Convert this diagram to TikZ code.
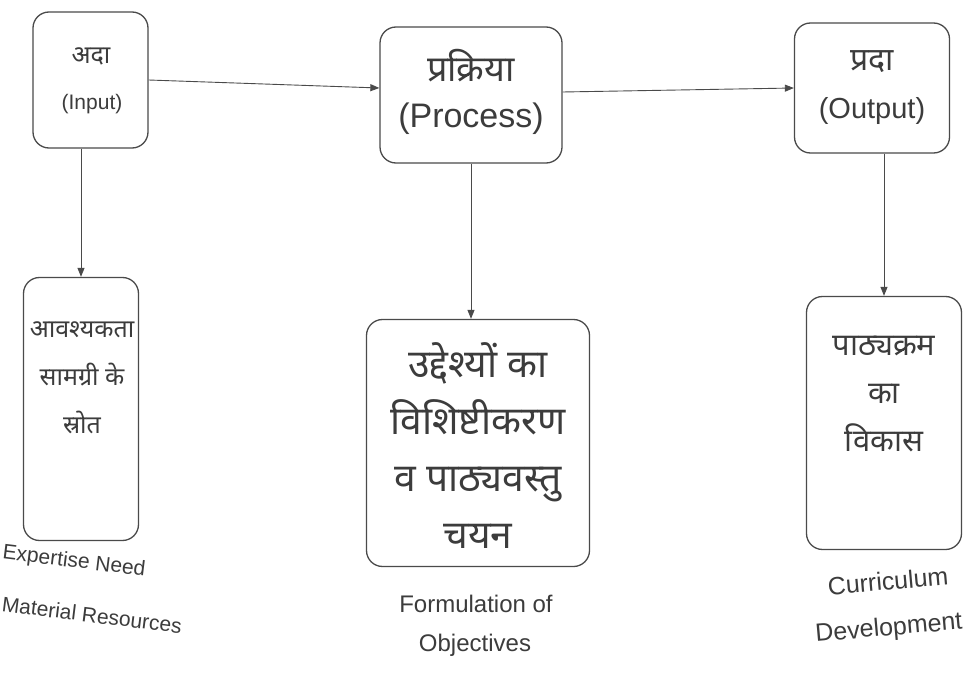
\documentclass[tikz,border=0pt]{standalone}
\usepackage{fontspec}
\setmainfont{Liberation Sans}
\newfontfamily\deva[Script=Devanagari]{Noto Sans}
\usetikzlibrary{arrows.meta}
\definecolor{ink}{HTML}{4A4A4A}
\definecolor{txt}{HTML}{3C3C3C}
\begin{document}
\begin{tikzpicture}[x=1pt,y=-1pt,
  box/.style={draw=ink, line width=1.3pt, rounded corners=16pt, inner sep=0pt},
  arr/.style={draw=ink, line width=0.9pt, -{Triangle[length=9pt,width=7pt]}},
  lbl/.style={text=txt, align=center, inner sep=0pt},
  hin/.style={text=txt, align=center, inner sep=0pt, font=\deva}]
\useasboundingbox[fill=white] (0,0) rectangle (975,674);
% top boxes
\node[box, minimum width=115pt, minimum height=136pt] (in) at (90.5,80) {};
\node[box, minimum width=182pt, minimum height=136pt] (proc) at (471,95) {};
\node[box, minimum width=155pt, minimum height=130pt] (out) at (872,88) {};
% bottom boxes
\node[box, minimum width=115pt, minimum height=263pt] (need) at (81,409) {};
\node[box, minimum width=223pt, minimum height=247pt] (obj) at (478,443) {};
\node[box, minimum width=155pt, minimum height=253pt] (dev) at (884,423) {};
% texts in top boxes
\node[hin, font=\deva\fontsize{25}{30}\selectfont] (tin1) at (91,56) {अदा};
\node[lbl, font=\fontsize{21}{25}\selectfont] (tin2) at (92,104) {(Input)};
\node[hin, font=\deva\fontsize{36}{40}\selectfont] (tproc1) at (471,66) {प्रक्रिया};
\node[lbl, font=\fontsize{34}{38}\selectfont] (tproc2) at (471,119) {(Process)};
\node[hin, font=\deva\fontsize{32}{36}\selectfont] (tout1) at (872,62) {प्रदा};
\node[lbl, font=\fontsize{29}{33}\selectfont] (tout2) at (872,111) {(Output)};
% texts in bottom boxes
\node[hin, font=\deva\fontsize{25}{48}\selectfont] (tneed) at (82,378) {आवश्यकता\\सामग्री के\\स्रोत};
\node[hin, font=\deva\fontsize{39}{57}\selectfont] (tobj) at (478,446) {उद्देश्यों का\\विशिष्टीकरण\\व पाठ्यवस्तु\\चयन};
\node[hin, font=\deva\fontsize{31}{48}\selectfont] (tdev) at (884,394) {पाठ्यक्रम\\का\\विकास};
% captions
\node[lbl, font=\fontsize{21}{25}\selectfont, rotate=-7] (cneed1) at (74,562) {Expertise Need};
\node[lbl, font=\fontsize{21}{25}\selectfont, rotate=-7] (cneed2) at (92,615) {Material Resources};
\node[lbl, font=\fontsize{24}{28}\selectfont] (cobj1) at (476,604) {Formulation of};
\node[lbl, font=\fontsize{24}{28}\selectfont] (cobj2) at (475,645) {Objectives};
\node[lbl, font=\fontsize{25}{29}\selectfont, rotate=5] (cdev1) at (888,581) {Curriculum};
\node[lbl, font=\fontsize{25}{29}\selectfont, rotate=5] (cdev2) at (889,629) {Development};
% connectors
\draw[arr] (in.east) -- ([yshift=7pt]proc.west);
\draw[arr] ([yshift=3pt]proc.east) -- (out.west);
\draw[arr] (need.north |- in.south) -- (need.north);
\draw[arr] (proc.south) -- (proc.south |- obj.north);
\draw[arr] (dev.north |- out.south) -- (dev.north);
\end{tikzpicture}
\end{document}
